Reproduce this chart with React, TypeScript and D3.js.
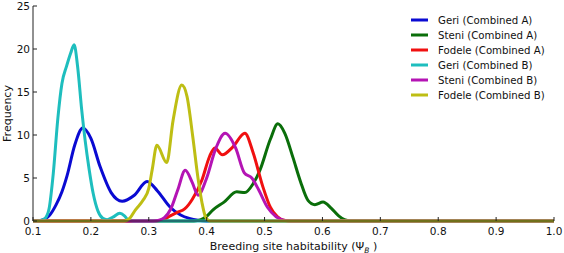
import React from "react";
import * as d3 from "d3";

const xTicks = [0.1, 0.2, 0.3, 0.4, 0.5, 0.6, 0.7, 0.8, 0.9, 1.0];
const yTicks = [0, 5, 10, 15, 20, 25];

const geriAX = [0.10, 0.108, 0.115, 0.122, 0.129, 0.14, 0.15, 0.159, 0.172, 0.186, 0.20, 0.216, 0.235, 0.254, 0.275, 0.297, 0.315, 0.337, 0.355, 0.37, 0.385, 0.40, 1.0];
const geriAY = [0, 0, 0.1, 0.3, 0.7, 1.9, 3.4, 5.3, 8.8, 10.8, 9.6, 6.3, 3.3, 2.3, 3.0, 4.6, 3.5, 1.6, 0.7, 0.3, 0.08, 0, 0];

const steniAX = [0.10, 0.378, 0.39, 0.40, 0.411, 0.43, 0.452, 0.466, 0.48, 0.492, 0.51, 0.523, 0.535, 0.549, 0.562, 0.575, 0.587, 0.601, 0.615, 0.628, 0.638, 0.648, 1.0];
const steniAY = [0, 0, 0.15, 0.55, 1.3, 2.2, 3.4, 3.3, 4.3, 5.9, 9.5, 11.3, 10.2, 7.4, 4.6, 2.4, 1.9, 2.2, 1.5, 0.6, 0.15, 0, 0];

const fodeleAX = [0.10, 0.315, 0.325, 0.337, 0.349, 0.362, 0.375, 0.392, 0.405, 0.414, 0.427, 0.445, 0.466, 0.48, 0.497, 0.51, 0.522, 0.533, 0.543, 1.0];
const fodeleAY = [0, 0, 0.15, 0.6, 1.0, 1.4, 2.5, 4.8, 7.5, 8.5, 7.7, 8.6, 10.2, 8.0, 4.0, 1.6, 0.5, 0.08, 0, 0];

const geriBX = [0.10, 0.108, 0.115, 0.122, 0.128, 0.135, 0.143, 0.15, 0.158, 0.165, 0.171, 0.177, 0.184, 0.19, 0.197, 0.204, 0.212, 0.22, 0.228, 0.238, 0.25, 0.258, 0.264, 0.272, 1.0];
const geriBY = [0, 0, 0.1, 0.4, 1.5, 5.5, 12.0, 16.0, 18.0, 19.5, 20.5, 18.0, 13.0, 9.4, 6.0, 3.2, 1.2, 0.35, 0.15, 0.45, 0.9, 0.6, 0.15, 0, 0];

const steniBX = [0.10, 0.308, 0.318, 0.327, 0.338, 0.35, 0.363, 0.375, 0.385, 0.40, 0.415, 0.432, 0.45, 0.465, 0.478, 0.49, 0.505, 0.52, 0.533, 0.546, 1.0];
const steniBY = [0, 0, 0.1, 0.4, 1.4, 3.6, 5.9, 4.5, 3.0, 5.0, 8.3, 10.2, 8.5, 5.6, 5.0, 3.6, 1.6, 0.5, 0.1, 0, 0];

const fodeleBX = [0.10, 0.258, 0.267, 0.277, 0.29, 0.30, 0.306, 0.314, 0.331, 0.342, 0.357, 0.366, 0.376, 0.385, 0.392, 0.398, 0.406, 1.0];
const fodeleBY = [0, 0, 0.3, 1.3, 2.4, 3.8, 6.0, 8.8, 6.8, 11.7, 15.8, 14.5, 9.8, 5.0, 2.1, 0.5, 0, 0];

const seriesNames = [
  "Geri (Combined A)",
  "Steni (Combined A)",
  "Fodele (Combined A)",
  "Geri (Combined B)",
  "Steni (Combined B)",
  "Fodele (Combined B)",
];
const seriesColors = ["#0a0ad2", "#0a6e0a", "#f01010", "#1ebebe", "#b414b4", "#bebe14"];
const seriesX = [geriAX, steniAX, fodeleAX, geriBX, steniBX, fodeleBX];
const seriesY = [geriAY, steniAY, fodeleAY, geriBY, steniBY, fodeleBY];

const W = 564;
const H = 253;
const left = 33;
const right = 554;
const top = 6;
const bottom = 221;
const font = "DejaVu Sans, sans-serif";

export default function App() {
  const x = d3.scaleLinear().domain([0.1, 1.0]).range([left, right]);
  const y = d3.scaleLinear().domain([0, 25]).range([bottom, top]);
  const line = d3
    .line<[number, number]>()
    .x((d) => x(d[0]))
    .y((d) => y(d[1]))
    .curve(d3.curveMonotoneX);

  return (
    <div style={{ position: "absolute", left: 0, top: 0 }}>
      <svg width={W} height={H} style={{ display: "block", background: "#fff" }}>
        <rect width={W} height={H} fill="#fff" />
        <defs>
          <clipPath id="clip">
            <rect x={left} y={top - 2} width={right - left} height={bottom - top + 4} />
          </clipPath>
        </defs>
        <g clipPath="url(#clip)">
          {seriesX.map((xs, i) => {
            const pts = xs.map((v, j) => [v, seriesY[i][j]] as [number, number]);
            return (
              <path
                key={i}
                d={line(pts) || ""}
                fill="none"
                stroke={seriesColors[i]}
                strokeWidth={3}
                strokeLinejoin="round"
              />
            );
          })}
        </g>
        <line x1={left} x2={left} y1={top} y2={bottom} stroke="#222" strokeWidth={1} />
        <line x1={left} x2={right} y1={bottom} y2={bottom} stroke="#222" strokeWidth={1} />
        {yTicks.map((t) => (
          <g key={"y" + t}>
            <line x1={left} x2={left + 4} y1={y(t)} y2={y(t)} stroke="#222" />
            <text
              x={left - 3}
              y={y(t) + 3.6}
              textAnchor="end"
              fontFamily={font}
              fontSize={10.5}
              fill="#111"
            >
              {t}
            </text>
          </g>
        ))}
        {xTicks.map((t) => (
          <g key={"x" + t}>
            <line x1={x(t)} x2={x(t)} y1={bottom} y2={bottom - 4} stroke="#222" />
            <text
              x={x(t)}
              y={234.5}
              textAnchor="middle"
              fontFamily={font}
              fontSize={10.5}
              fill="#111"
            >
              {t.toFixed(1)}
            </text>
          </g>
        ))}
        <text
          x={(left + right) / 2}
          y={250}
          textAnchor="middle"
          fontFamily={font}
          fontSize={11}
          fill="#111"
        >
          Breeding site habitability (Ψ
          <tspan fontSize={7.5} fontStyle="italic" dy={2.5}>B</tspan>
          <tspan dy={-2.5}> )</tspan>
        </text>
        <text
          transform={`translate(11, ${(top + bottom) / 2}) rotate(-90)`}
          textAnchor="middle"
          fontFamily={font}
          fontSize={11}
          fill="#111"
        >
          Frequency
        </text>
        {seriesNames.map((name, i) => {
          const ry = 20 + i * 15;
          return (
            <g key={name}>
              <line x1={411} x2={428} y1={ry} y2={ry} stroke={seriesColors[i]} strokeWidth={3} />
              <text x={438} y={ry + 3.7} fontFamily={font} fontSize={10.2} fill="#111">
                {name}
              </text>
            </g>
          );
        })}
      </svg>
    </div>
  );
}
